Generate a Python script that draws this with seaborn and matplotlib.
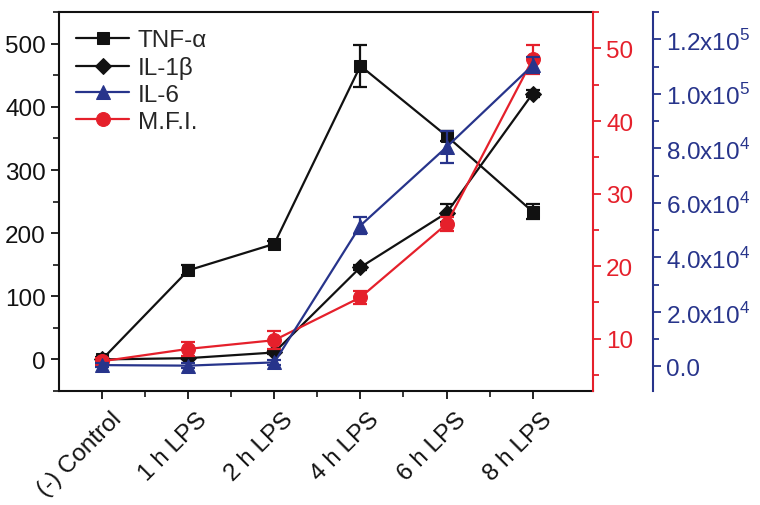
import numpy as np
import matplotlib
matplotlib.use("Agg")
import matplotlib.pyplot as plt
import matplotlib.transforms as mtransforms
import seaborn as sns
from matplotlib.ticker import MultipleLocator, FixedLocator

# data
groups = ["(-) Control", "1 h LPS", "2 h LPS", "4 h LPS", "6 h LPS", "8 h LPS"]
tnf = [0, 141, 183, 465, 354, 234]
tnf_err = [4, 8, 4, 33, 8, 12]
il1b = [0, 2, 11, 146, 232, 421]
il1b_err = [2, 2, 3, 4, 14, 5]
il6 = [500, 300, 1500, 51700, 80500, 110500]
il6_err = [800, 800, 800, 3000, 5800, 3000]
mfi = [6.9, 8.6, 9.8, 15.7, 25.8, 48.5]
mfi_err = [0.5, 1.0, 1.2, 0.9, 1.0, 2.0]

black = "#111111"
blue = "#27348b"
red = "#e5202b"

sns.set_style("ticks")
plt.rcParams["font.family"] = ["Liberation Sans", "DejaVu Sans"]
plt.rcParams["mathtext.fontset"] = "custom"
plt.rcParams["mathtext.rm"] = "Liberation Sans"
fs = 17.5

x = np.arange(len(groups))

fig = plt.figure(figsize=(7.6, 5.06), dpi=100)
ax = fig.add_axes([0.0776, 0.2253, 0.7026, 0.7487])
ax2 = ax.twinx()
ax3 = ax.twinx()

# left axis: TNF-a and IL-1b
sns.lineplot(x=x, y=tnf, ax=ax, color=black, marker="s", markersize=8,
             markeredgecolor=black, linewidth=1.6, label="TNF-\u03b1", legend=False)
ax.errorbar(x, tnf, yerr=tnf_err, fmt="none", ecolor=black, elinewidth=1.6, capsize=5, capthick=1.6)
sns.lineplot(x=x, y=il1b, ax=ax, color=black, marker="D", markersize=8,
             markeredgecolor=black, linewidth=1.6, label="IL-1\u03b2", legend=False)
ax.errorbar(x, il1b, yerr=il1b_err, fmt="none", ecolor=black, elinewidth=1.6, capsize=5, capthick=1.6)

# red axis: M.F.I.
sns.lineplot(x=x, y=mfi, ax=ax2, color=red, marker="o", markersize=10,
             markeredgecolor=red, linewidth=1.6, label="M.F.I.", legend=False)
ax2.errorbar(x, mfi, yerr=mfi_err, fmt="none", ecolor=red, elinewidth=1.6, capsize=5, capthick=1.6)

# blue axis: IL-6
sns.lineplot(x=x, y=il6, ax=ax3, color=blue, marker="^", markersize=10,
             markeredgecolor=blue, linewidth=1.6, label="IL-6", legend=False)
ax3.errorbar(x, il6, yerr=il6_err, fmt="none", ecolor=blue, elinewidth=1.6, capsize=5, capthick=1.6)

# main axis styling
ax.set_xlim(-0.5, 5.7)
ax.set_ylim(-50, 550)
ax.set_xticks(x)
ax.set_xticklabels(groups, rotation=45, ha="right", rotation_mode="anchor")
ax.xaxis.set_minor_locator(FixedLocator(x[:-1] + 0.5))
ax.yaxis.set_major_locator(MultipleLocator(100))
ax.yaxis.set_minor_locator(MultipleLocator(50))
ax.tick_params(axis="both", which="major", direction="out", length=6, width=1.3, labelsize=fs, colors=black)
ax.tick_params(axis="both", which="minor", direction="out", length=4, width=1.3)
ax.tick_params(axis="x", pad=6)
for s in ["left", "bottom", "top"]:
    ax.spines[s].set_linewidth(1.5)
    ax.spines[s].set_color(black)
ax.spines["top"].set_visible(True)
ax.spines["right"].set_visible(False)

# red axis styling
ax2.set_ylim(2.8, 55)
ax2.yaxis.set_major_locator(MultipleLocator(10))
ax2.yaxis.set_minor_locator(MultipleLocator(5))
ax2.spines["right"].set_color(red)
ax2.spines["right"].set_linewidth(1.5)
for s in ["left", "top", "bottom"]:
    ax2.spines[s].set_visible(False)
ax2.tick_params(axis="y", which="major", colors=red, direction="out", length=6, width=1.3, labelsize=fs)
ax2.tick_params(axis="y", which="minor", colors=red, direction="out", length=4, width=1.3)

# blue axis styling
ax3.spines["right"].set_position(("outward", 43))
ax3.spines["right"].set_color(blue)
ax3.spines["right"].set_linewidth(1.5)
for s in ["left", "top", "bottom"]:
    ax3.spines[s].set_visible(False)
ax3.set_ylim(-9000, 130000)
ax3.set_yticks([0, 20000, 40000, 60000, 80000, 100000, 120000])
ax3.set_yticklabels(["0.0", r"2.0x10$^4$", r"4.0x10$^4$", r"6.0x10$^4$",
                     r"8.0x10$^4$", r"1.0x10$^5$", r"1.2x10$^5$"])
ax3.yaxis.set_minor_locator(MultipleLocator(10000))
ax3.tick_params(axis="y", which="major", colors=blue, direction="out", length=6, width=1.3, labelsize=fs)
ax3.tick_params(axis="y", which="minor", colors=blue, direction="out", length=4, width=1.3)

# legend, collected from all three axes
h1, l1 = ax.get_legend_handles_labels()
h2, l2 = ax2.get_legend_handles_labels()
h3, l3 = ax3.get_legend_handles_labels()
ax.legend(h1 + h3 + h2, l1 + l3 + l2, loc="upper left", frameon=False, fontsize=fs,
          handlelength=2.2, handletextpad=0.35, labelspacing=0.2,
          borderaxespad=0.3, bbox_to_anchor=(0.0, 1.0))

# nudge the rotated category labels a little to the right, like the original
fig.canvas.draw()
shift = mtransforms.ScaledTranslation(0.08, 0, fig.dpi_scale_trans)
for tick in ax.xaxis.get_major_ticks():
    tick.label1.set_transform(tick.label1.get_transform() + shift)

fig.savefig("out.png", dpi=100)
